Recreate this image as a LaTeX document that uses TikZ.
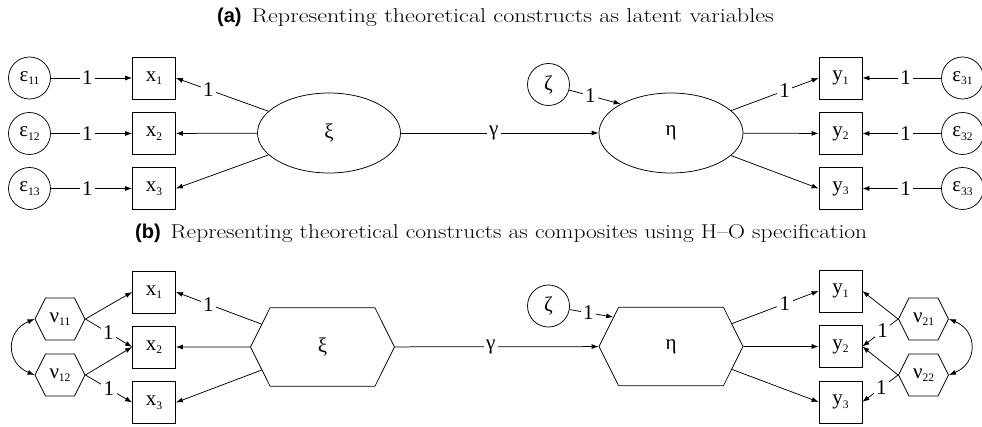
\documentclass[tikz,border=0pt]{standalone}
\usepackage{fontspec}
\usepackage{graphicx}
\newfontfamily\tms{Liberation Serif}
\newfontfamily\arl{Liberation Sans}
\usetikzlibrary{shapes.geometric,shapes.symbols,arrows.meta}
\newcommand\sbs[1]{\raisebox{-3.5pt}{\fontsize{11.5}{12}\selectfont #1}}
\newcommand\ttltext[3]{{\arl\bfseries #1}\hspace{10pt}\scalebox{#3}[1]{#2}}
\begin{document}
\begin{tikzpicture}[x=1pt,y=-1pt,
  every node/.style={font=\tms\fontsize{21}{24}\selectfont, inner sep=0pt},
  obs/.style={draw, line width=0.75pt, minimum width=43pt, minimum height=42pt},
  err/.style={draw, circle, line width=0.75pt, minimum size=42pt},
  lat/.style={draw, ellipse, line width=0.75pt, minimum width=143pt, minimum height=80pt},
  hexa/.style={draw, signal, signal to=east and west, signal pointer angle=127, line width=0.75pt},
  arr/.style={line width=0.75pt, -{Latex[length=7pt,width=5pt]}},
  dbl/.style={line width=0.75pt, {Latex[length=7pt,width=5pt]}-{Latex[length=7pt,width=5pt]}},
  lab/.style={fill=white, inner sep=2.5pt},
  ttl/.style={anchor=base west, font=\normalfont\fontsize{20}{22}\selectfont},
]
\useasboundingbox (0,0) rectangle (982,427);
% titles
\node[ttl] (ta) at (217,23) {\ttltext{(a)}{Representing theoretical constructs as latent variables}{1.21}};
\node[ttl] (tb) at (135,239) {\ttltext{(b)}{Representing theoretical constructs as composites using H--O specification}{1.176}};
% ---------- (a) ----------
\node[err] (e11) at (29.5,78) {ε\sbs{11}};
\node[err] (e12) at (29.5,133.5) {ε\sbs{12}};
\node[err] (e13) at (29.5,188.5) {ε\sbs{13}};
\node[obs] (x1) at (154,78) {x\sbs{1}};
\node[obs] (x2) at (154,133.5) {x\sbs{2}};
\node[obs] (x3) at (154,188.5) {x\sbs{3}};
\node[lat] (xi) at (329,133) {ξ};
\node[lat, minimum width=144pt] (eta) at (671,133) {η};
\node[err] (zeta) at (548.5,84.5) {ζ};
\node[obs] (y1) at (840.5,78) {y\sbs{1}};
\node[obs] (y2) at (840.5,133.5) {y\sbs{2}};
\node[obs] (y3) at (840.5,188.5) {y\sbs{3}};
\node[err] (e31) at (962.5,78) {ε\sbs{31}};
\node[err] (e32) at (962.5,133.5) {ε\sbs{32}};
\node[err] (e33) at (962.5,188.5) {ε\sbs{33}};
\draw[arr] (e11) -- node[lab,pos=0.45]{1} (x1);
\draw[arr] (e12) -- node[lab,pos=0.45]{1} (x2);
\draw[arr] (e13) -- node[lab,pos=0.45]{1} (x3);
\draw[arr] (xi) -- node[lab,pos=0.65]{1} (x1.east);
\draw[arr] (xi) -- (x2);
\draw[arr] (xi) -- (x3.east);
\draw[arr] (xi) -- node[lab,pos=0.47]{γ} (eta);
\draw[arr] (zeta) -- node[lab,pos=0.41]{1} (eta.150);
\draw[arr] (eta) -- node[lab,pos=0.61]{1} (y1.west);
\draw[arr] (eta) -- (y2);
\draw[arr] (eta) -- (y3.west);
\draw[arr] (e31) -- node[lab,pos=0.45]{1} (y1);
\draw[arr] (e32) -- node[lab,pos=0.45]{1} (y2);
\draw[arr] (e33) -- node[lab,pos=0.45]{1} (y3);
% ---------- (b) ----------
\node[hexa, minimum width=50pt, minimum height=42pt] (n11) at (60,319) {ν\sbs{11}};
\node[hexa, minimum width=50pt, minimum height=42pt] (n12) at (60,375) {ν\sbs{12}};
\node[obs] (x1b) at (154,292) {x\sbs{1}};
\node[obs] (x2b) at (154,347) {x\sbs{2}};
\node[obs] (x3b) at (154,402.5) {x\sbs{3}};
\node[hexa, minimum width=144pt, minimum height=78.5pt] (xi2) at (322.5,347) {ξ};
\node[hexa, minimum width=144pt, minimum height=78.5pt] (eta2) at (671,346.5) {η};
\node[err] (zeta2) at (548.5,306) {ζ};
\node[obs] (y1b) at (840.5,291) {y\sbs{1}};
\node[obs] (y2b) at (840.5,346.5) {y\sbs{2}};
\node[obs] (y3b) at (840.5,402) {y\sbs{3}};
\node[hexa, minimum width=50pt, minimum height=42pt] (n21) at (923.5,319) {ν\sbs{21}};
\node[hexa, minimum width=50pt, minimum height=42pt] (n22) at (923.5,375) {ν\sbs{22}};
\draw[arr] (n11.east) -- (x1b.west);
\draw[arr] (n11.east) -- node[lab,pos=0.49]{1} (x2b.west);
\draw[arr] (n12.east) -- (x2b.west);
\draw[arr] (n12.east) -- node[lab,pos=0.5]{1} (x3b.west);
\draw[dbl] (n11.west) .. controls +(-29,12) and +(-29,-12) .. (n12.west);
\draw[arr] (xi2) -- node[lab,pos=0.62]{1} (x1b.east);
\draw[arr] (xi2) -- (x2b);
\draw[arr] (xi2) -- (x3b.east);
\draw[arr] (xi2) -- node[lab,pos=0.47]{γ} (eta2);
\draw[arr] (zeta2) -- node[lab,pos=0.43]{1} (eta2.153);
\draw[arr] (eta2) -- node[lab,pos=0.61]{1} (y1b.west);
\draw[arr] (eta2) -- (y2b);
\draw[arr] (eta2) -- (y3b.west);
\draw[arr] (n21.west) -- (y1b.east);
\draw[arr] (n21.west) -- node[lab,pos=0.43]{1} (y2b.east);
\draw[arr] (n22.west) -- (y2b.east);
\draw[arr] (n22.west) -- node[lab,pos=0.47]{1} (y3b.east);
\draw[dbl] (n21.east) .. controls +(29,12) and +(29,-12) .. (n22.east);
\end{tikzpicture}
\end{document}
